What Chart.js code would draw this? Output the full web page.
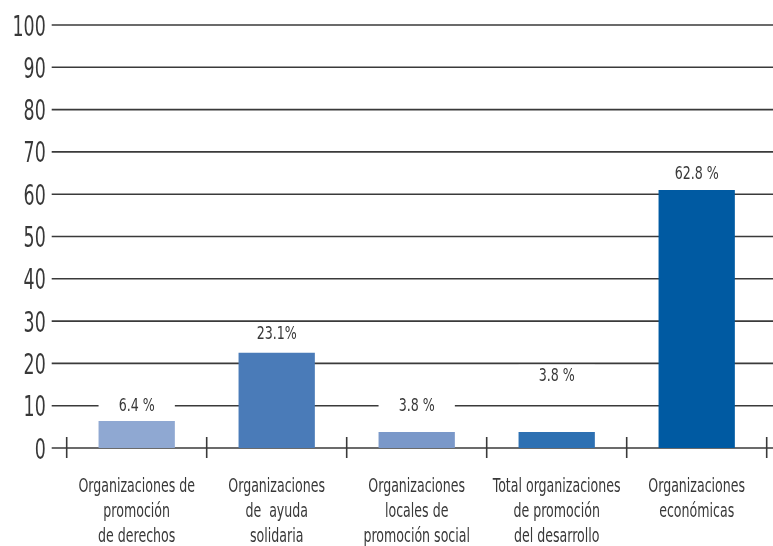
<!DOCTYPE html>
<html>
<head>
<meta charset="utf-8">
<script src="https://cdn.jsdelivr.net/npm/chart.js@4.4.0/dist/chart.umd.min.js"></script>
<style>
  html, body { margin: 0; padding: 0; background: #fff; }
  #wrap { width: 773px; height: 546px; }
</style>
</head>
<body>
<div id="wrap"><canvas id="grafico"></canvas></div>
<script>
// Datos del gráfico
const categorias = [
  ['Organizaciones de', 'promoción', 'de derechos'],
  ['Organizaciones', 'de  ayuda', 'solidaria'],
  ['Organizaciones', 'locales de', 'promoción social'],
  ['Total organizaciones', 'de promoción', 'del desarrollo'],
  ['Organizaciones', 'económicas']
];
const valores = [6.4, 22.5, 3.8, 3.8, 61.0];
const etiquetas = ['6.4 %', '23.1%', '3.8 %', '3.8 %', '62.8 %'];
const ticksY = [0, 10, 20, 30, 40, 50, 60, 70, 80, 90, 100];
const colores = ['#8fa8d2', '#4a7bb8', '#7a98c9', '#2d70b2', '#005aa2'];

const FUENTE = "'DejaVu Sans Condensed', 'DejaVu Sans', sans-serif";
const GRIS = '#383838';

// Texto comprimido horizontalmente (la fuente original es muy estrecha)
function textoEstrecho(ctx, texto, x, y, k, align) {
  ctx.save();
  ctx.translate(x, y);
  ctx.scale(k, 1);
  ctx.textAlign = align;
  ctx.fillText(texto, 0, 0);
  ctx.restore();
}

// Líneas horizontales y marcas del eje x
const lineasYMarcas = {
  id: 'lineasYMarcas',
  beforeDatasetsDraw(chart, args, opts) {
    const { ctx, scales: { x, y } } = chart;
    ctx.save();
    ctx.strokeStyle = opts.color;
    ctx.lineWidth = opts.width;
    y.ticks.forEach(t => {
      const py = y.getPixelForValue(t.value);
      ctx.beginPath();
      ctx.moveTo(x.left - opts.extIzq, py);
      ctx.lineTo(chart.width, py);
      ctx.stroke();
    });
    const paso = x.getPixelForValue(1) - x.getPixelForValue(0);
    const y0 = y.getPixelForValue(0);
    for (let i = 0; i <= categorias.length; i++) {
      const px = x.getPixelForValue(0) - paso / 2 + i * paso;
      ctx.beginPath();
      ctx.moveTo(px, y0 - 11);
      ctx.lineTo(px, y0 + 10);
      ctx.stroke();
    }
    ctx.restore();
  }
};

// Etiquetas de valor, ejes y categorías
const textos = {
  id: 'textos',
  afterDatasetsDraw(chart, args, opts) {
    const { ctx, scales: { x, y } } = chart;
    const barras = chart.getDatasetMeta(0).data;
    ctx.save();
    ctx.textBaseline = 'alphabetic';

    // valores sobre las barras, con fondo blanco que corta la rejilla
    ctx.font = '18px ' + FUENTE;
    barras.forEach((bar, i) => {
      const cy = y.getPixelForValue(opts.posiciones[i]);
      ctx.fillStyle = '#ffffff';
      ctx.fillRect(bar.x - bar.width / 2, cy - 10, bar.width, 20);
      ctx.fillStyle = GRIS;
      textoEstrecho(ctx, etiquetas[i], bar.x, cy + 6.5, 0.78, 'center');
    });

    // eje y
    ctx.font = '28px ' + FUENTE;
    ctx.fillStyle = GRIS;
    y.ticks.forEach(t => {
      textoEstrecho(ctx, String(t.value), x.left - 21, y.getPixelForValue(t.value) + 10.5, 0.69, 'right');
    });

    // categorías
    ctx.font = '20px ' + FUENTE;
    const y0 = y.getPixelForValue(0);
    categorias.forEach((lineas, i) => {
      const px = x.getPixelForValue(i);
      lineas.forEach((linea, j) => {
        textoEstrecho(ctx, linea, px, y0 + 43.5 + j * 25, 0.70, 'center');
      });
    });
    ctx.restore();
  }
};

new Chart(document.getElementById('grafico'), {
  type: 'bar',
  data: {
    labels: categorias,
    datasets: [{
      data: valores,
      backgroundColor: colores,
      borderWidth: 0,
      barPercentage: 0.545,
      categoryPercentage: 1
    }]
  },
  options: {
    responsive: true,
    maintainAspectRatio: false,
    animation: false,
    layout: { padding: { top: 25, right: 6.3, left: 0, bottom: 0 } },
    plugins: {
      legend: { display: false },
      tooltip: { enabled: false },
      lineasYMarcas: { color: '#3a3a3a', width: 1.6, extIzq: 15 },
      textos: { posiciones: [10.4, 27.4, 10.4, 17.3, 65.2] }
    },
    scales: {
      x: {
        grid: { display: false },
        border: { display: false },
        ticks: { display: false },
        afterFit: s => { s.height = 98; s.paddingLeft = 0; s.paddingRight = 0; }
      },
      y: {
        min: 0,
        max: 100,
        grid: { display: false },
        border: { display: false },
        ticks: { display: false },
        afterFit: s => { s.width = 66.7; s.paddingTop = 0; s.paddingBottom = 0; },
        afterBuildTicks: s => { s.ticks = ticksY.map(v => ({ value: v })); }
      }
    }
  },
  plugins: [lineasYMarcas, textos]
});
</script>
</body>
</html>
